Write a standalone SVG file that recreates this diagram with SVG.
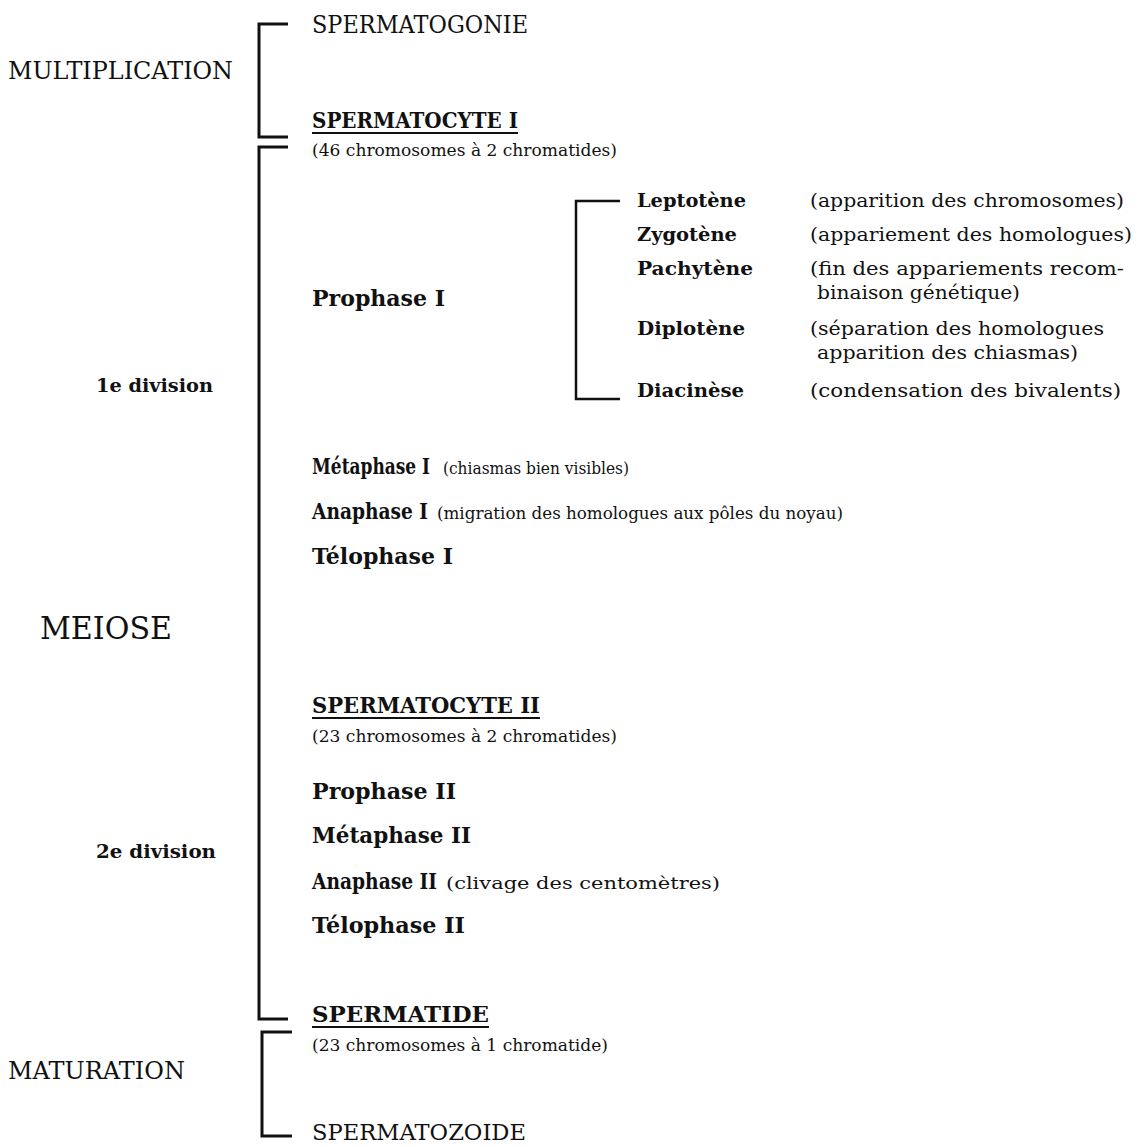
<svg xmlns="http://www.w3.org/2000/svg" width="1143" height="1147" viewBox="0 0 1143 1147">
<style>
text{font-family:"DejaVu Serif","Liberation Serif",serif;fill:#111}
.cap{font-size:24px}
.big{font-size:31px}
.bh{font-size:22px;font-weight:bold}
.bs{font-size:19px;font-weight:bold}
.d{font-size:19px}
.s{font-size:17px}
.br{fill:none;stroke:#111;stroke-width:3}
.ul{stroke:#111;stroke-width:2}
</style>
<rect width="1143" height="1147" fill="#fff"/>
<g id="connectors">
<path class="br" d="M288,24 H259 V137 H288"/>
<path class="br" d="M288,147 H259 V1019 H288"/>
<path class="br" d="M292,1032 H262 V1136 H292"/>
<path class="br" style="stroke-width:2.5" d="M620,201 H576 V399 H620"/>
</g>
<g id="multiplication"><text class="cap" x="8" y="79" textLength="225" lengthAdjust="spacingAndGlyphs">MULTIPLICATION</text></g>
<g id="meiose"><text class="big" x="40" y="639" textLength="132" lengthAdjust="spacingAndGlyphs">MEIOSE</text></g>
<g id="division1"><text class="bs" x="96" y="392" textLength="117" lengthAdjust="spacingAndGlyphs">1e division</text></g>
<g id="division2"><text class="bs" x="96" y="858" textLength="120" lengthAdjust="spacingAndGlyphs">2e division</text></g>
<g id="maturation"><text class="cap" x="8" y="1079" textLength="177" lengthAdjust="spacingAndGlyphs">MATURATION</text></g>

<g id="spermatogonie"><text class="cap" x="312" y="33" textLength="216" lengthAdjust="spacingAndGlyphs">SPERMATOGONIE</text></g>
<g id="spermatocyte1">
<text class="bh" x="312" y="128" textLength="206" lengthAdjust="spacingAndGlyphs">SPERMATOCYTE I</text>
<line class="ul" x1="312" y1="133" x2="518" y2="133"/>
<text class="s" x="312" y="156" textLength="305" lengthAdjust="spacingAndGlyphs">(46 chromosomes à 2 chromatides)</text>
</g>
<g id="prophase1"><text class="bh" x="312" y="306" textLength="133" lengthAdjust="spacingAndGlyphs">Prophase I</text></g>
<g id="leptotene"><text class="bs" x="637" y="207" textLength="109" lengthAdjust="spacingAndGlyphs">Leptotène</text><text class="d" x="810" y="207" textLength="314" lengthAdjust="spacingAndGlyphs">(apparition des chromosomes)</text></g>
<g id="zygotene"><text class="bs" x="637" y="241" textLength="100" lengthAdjust="spacingAndGlyphs">Zygotène</text><text class="d" x="810" y="241" textLength="322" lengthAdjust="spacingAndGlyphs">(appariement des homologues)</text></g>
<g id="pachytene"><text class="bs" x="637" y="275" textLength="116" lengthAdjust="spacingAndGlyphs">Pachytène</text><text class="d" x="810" y="275" textLength="314" lengthAdjust="spacingAndGlyphs">(fin des appariements recom-</text><text class="d" x="817" y="299" textLength="203" lengthAdjust="spacingAndGlyphs">binaison génétique)</text></g>
<g id="diplotene"><text class="bs" x="637" y="335" textLength="108" lengthAdjust="spacingAndGlyphs">Diplotène</text><text class="d" x="810" y="335" textLength="294" lengthAdjust="spacingAndGlyphs">(séparation des homologues</text><text class="d" x="817" y="359" textLength="261" lengthAdjust="spacingAndGlyphs">apparition des chiasmas)</text></g>
<g id="diacinese"><text class="bs" x="637" y="397" textLength="107" lengthAdjust="spacingAndGlyphs">Diacinèse</text><text class="d" x="810" y="397" textLength="311" lengthAdjust="spacingAndGlyphs">(condensation des bivalents)</text></g>
<g id="metaphase1"><text class="bh" x="312" y="474" textLength="118" lengthAdjust="spacingAndGlyphs">Métaphase I</text><text class="s" x="443" y="474" textLength="186" lengthAdjust="spacingAndGlyphs">(chiasmas bien visibles)</text></g>
<g id="anaphase1"><text class="bh" x="312" y="519" textLength="116" lengthAdjust="spacingAndGlyphs">Anaphase I</text><text class="s" x="437" y="519" textLength="406" lengthAdjust="spacingAndGlyphs">(migration des homologues aux pôles du noyau)</text></g>
<g id="telophase1"><text class="bh" x="312" y="564" textLength="141" lengthAdjust="spacingAndGlyphs">Télophase I</text></g>
<g id="spermatocyte2">
<text class="bh" x="312" y="713" textLength="228" lengthAdjust="spacingAndGlyphs">SPERMATOCYTE II</text>
<line class="ul" x1="312" y1="718" x2="540" y2="718"/>
<text class="s" x="312" y="742" textLength="305" lengthAdjust="spacingAndGlyphs">(23 chromosomes à 2 chromatides)</text>
</g>
<g id="prophase2"><text class="bh" x="312" y="799" textLength="144" lengthAdjust="spacingAndGlyphs">Prophase II</text></g>
<g id="metaphase2"><text class="bh" x="312" y="843" textLength="159" lengthAdjust="spacingAndGlyphs">Métaphase II</text></g>
<g id="anaphase2"><text class="bh" x="312" y="889" textLength="125" lengthAdjust="spacingAndGlyphs">Anaphase II</text><text class="s" x="446" y="889" textLength="274" lengthAdjust="spacingAndGlyphs">(clivage des centomètres)</text></g>
<g id="telophase2"><text class="bh" x="312" y="933" textLength="153" lengthAdjust="spacingAndGlyphs">Télophase II</text></g>
<g id="spermatide">
<text class="bh" x="312" y="1022" textLength="177" lengthAdjust="spacingAndGlyphs">SPERMATIDE</text>
<line class="ul" x1="312" y1="1027" x2="489" y2="1027"/>
<text class="s" x="312" y="1051" textLength="296" lengthAdjust="spacingAndGlyphs">(23 chromosomes à 1 chromatide)</text>
</g>
<g id="spermatozoide"><text class="cap" x="312" y="1140" style="font-size:23px" textLength="214" lengthAdjust="spacingAndGlyphs">SPERMATOZOIDE</text></g>
</svg>
